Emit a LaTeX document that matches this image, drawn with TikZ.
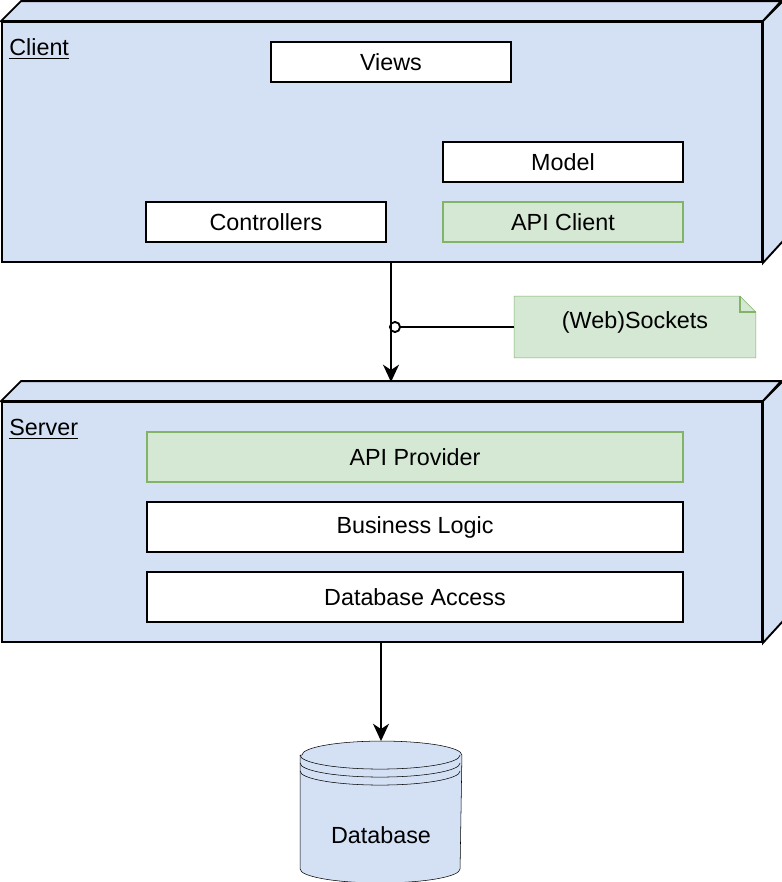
\documentclass[tikz,border=0pt]{standalone}
\usepackage{fontspec}
\setmainfont{Liberation Sans}
\usetikzlibrary{arrows.meta, backgrounds}
\definecolor{boxblue}{HTML}{D4E1F5}
\definecolor{boxgreen}{HTML}{D5E8D4}
\definecolor{linegreen}{HTML}{82B366}

\begin{document}
\begin{tikzpicture}[x=0.75pt, y=-0.75pt, line width=1.4pt, font=\fontsize{17.5}{21}\selectfont,
  face/.style={draw, fill=boxblue, minimum width=570pt, minimum height=180pt, inner sep=0pt},
  side/.style={draw, fill=boxblue},
  part/.style={draw, fill=white, minimum width=180pt, minimum height=30pt, inner sep=0pt},
  layer/.style={part, minimum width=402pt, minimum height=37.5pt},
  green/.style={draw=linegreen, fill=boxgreen},
  arr/.style={-{Stealth[length=13pt, width=12pt, inset=4pt]}}]
  \useasboundingbox (0,0) rectangle (782,882);

  % the two cubes
  \node[face] (client) at (382,142) {};
  \node[face] (server) at (382,522) {};
  \foreach \n in {client,server} {
    \draw[side] (\n.north west) -- ++(15pt,15pt) -- ++(570pt,0pt) -- (\n.north east) -- cycle;
    \draw[side] (\n.north east) -- ++(15pt,15pt) -- ++(0pt,-180pt) -- (\n.south east) -- cycle;
  }
  \node[anchor=base west, inner sep=0pt] (clientname) at ([xshift=5.5pt, yshift=-26pt]client.north west) {\underline{Client}};
  \node[anchor=base west, inner sep=0pt] (servername) at ([xshift=5.5pt, yshift=-26pt]server.north west) {\underline{Server}};

  % client parts
  \node[part] (views) at (391,62) {Views};
  \node[part] (model) at (563,162) {Model};
  \node[part] (controllers) at (266,222) {Controllers};
  \node[part, green] (apiclient) at (563,222) {API Client};

  % server layers
  \node[layer, green] (apiprovider) at (415,457) {API Provider};
  \node[layer] (logic) at (415,527) {Business Logic};
  \node[layer] (dbaccess) at (415,597) {Database Access};

  % note
  \node[minimum width=180pt, minimum height=45pt, inner sep=0pt, text depth=11pt] (sockets) at (635,327) {(Web)Sockets};
  \begin{scope}[on background layer]
    \draw[green] (sockets.south west) -- (sockets.north west) -- ([xshift=-12pt]sockets.north east)
      -- ([yshift=-12pt]sockets.north east) -- (sockets.south east) -- cycle;
  \end{scope}
  \draw[linegreen] ([xshift=-12pt]sockets.north east) -- ++(0pt,-12pt) -- ([yshift=-12pt]sockets.north east);

  % database
  \node[minimum width=120pt, minimum height=105pt, inner sep=0pt, text height=47pt, text depth=0pt] (db) at (381,812) {Database};
  \begin{scope}[on background layer]
    \draw[fill=boxblue] ([yshift=-10.5pt]db.north west) -- ([yshift=10.5pt]db.south west)
      arc[start angle=180, end angle=360, x radius=60pt, y radius=10.5pt]
      -- ([yshift=-10.5pt]db.north east)
      arc[start angle=0, end angle=180, x radius=60pt, y radius=10.5pt] -- cycle;
    \foreach \d in {10.5,16.5,22.5}
      \draw ([yshift=-\d pt]db.north west) arc[start angle=180, end angle=360, x radius=60pt, y radius=10.5pt];
  \end{scope}

  % connectors
  \coordinate (serverin) at (391,382);
  \coordinate (tap) at (389,327);
  \draw[arr] (client.south -| serverin) -- (serverin);
  \draw[-{Circle[open, length=9pt]}] (sockets) -- (tap);
  \draw[arr] (server.south -| db) -- (db.north);
\end{tikzpicture}
\end{document}
